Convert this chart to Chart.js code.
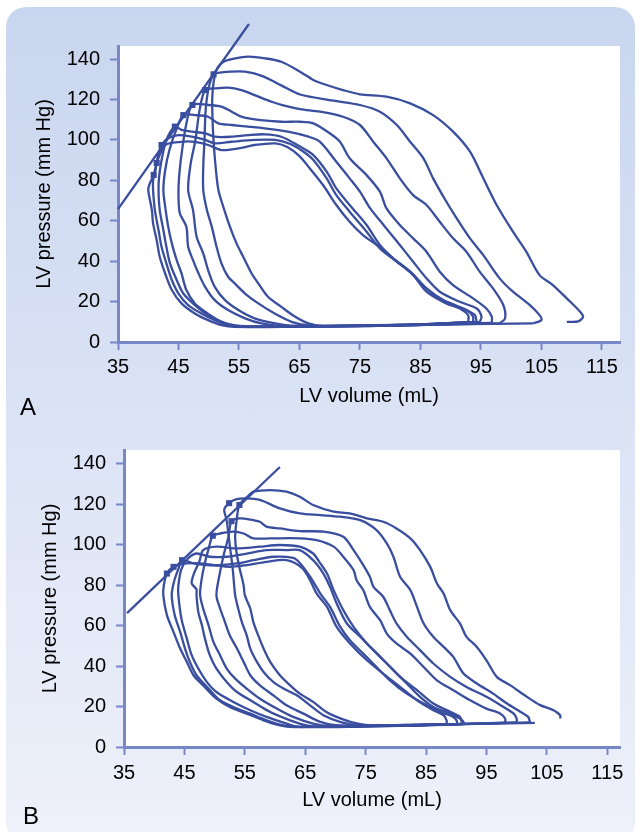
<!DOCTYPE html>
<html lang="en">
<head>
    <meta charset="UTF-8">
    <title>LV pressure-volume loops</title>
    <script src="https://cdn.jsdelivr.net/npm/chart.js"></script>
    <style>
        body {
            margin: 0;
            background: #fff;
            font-family: "Liberation Sans", Arial, sans-serif;
        }
        .page {
            position: relative;
            width: 640px;
            height: 832px;
            overflow: hidden;
        }
        .panel {
            position: absolute;
            left: 6px;
            top: 7px;
            width: 629px;
            height: 835px;
            border-radius: 20px;
            background: linear-gradient(#c9d6ef, #dbe3f5 50%, #eef1fa);
        }
        canvas { position: absolute; left: 0; }
        #chartA { top: 0; }
        #chartB { top: 420px; }
        .tag {
            position: absolute;
            font-size: 24px;
            line-height: 1;
            color: #000;
        }
    </style>
</head>
<body>
<div class="page">
    <div class="panel"></div>
    <canvas id="chartA" width="640" height="420"></canvas>
    <canvas id="chartB" width="640" height="412"></canvas>
    <div class="tag" style="left:20px; top:395px;">A</div>
    <div class="tag" style="left:23px; top:804px;">B</div>
</div>

<script>
    // tick labels
    const volumeTicks = [35, 45, 55, 65, 75, 85, 95, 105, 115];
    const pressureTicks = [0, 20, 40, 60, 80, 100, 120, 140];

    // panel A loops, [volume mL, pressure mm Hg], each beat from end-diastole round to the next one
    const a1 = [[109.2,10],[111.1,10.2],[111.9,12.5],[111.4,15],[109.2,21.6],[106.9,28.2],[104.7,33.1],[102.5,44.7],[100.3,54.6],[97.6,67.8],[95.4,81],[93.2,94.2],[90.4,104.1],[87.1,112.3],[83.3,118.1],[79.4,121.4],[75,122.6],[72.2,124.7],[69.5,127.2],[67.3,129.7],[65.1,133.8],[62,138.7],[59.3,140.4],[56.5,141.2],[53.8,140],[52.3,138.4],[51.2,134],[50.6,122],[50.7,105],[51.1,88],[51.6,75.2],[52.4,67],[53.5,57.1],[54.6,48.8],[55.7,42.2],[57.1,33.9],[58.2,29],[59.8,22.4],[62,17.4],[64.3,12.5],[66.5,9.2],[69,7.8],[78,8],[88,8.6],[97,9],[103.7,9.2]];
    const a2 = [[103.7,9.2],[105,10.9],[104.7,13.3],[103.1,18.3],[100.3,24.9],[98.1,31.5],[95.4,43],[93.2,51.3],[91,61.2],[89.3,69.4],[87.1,81],[85.5,90.9],[83.3,99.1],[81.1,107.4],[78.3,114],[75,117.3],[70.6,119.5],[65.1,122.5],[62,127],[59,131.5],[56,133.8],[53.5,133.8],[51.5,133.2],[50.8,132.5],[50,126],[49.5,115],[49.3,100],[49.1,87],[49.1,75.2],[49.7,65.3],[50.5,57.1],[51.3,47.1],[52.1,38.9],[53.2,32.3],[54.3,29],[56,24],[58.2,19.1],[60.9,14.1],[63.7,10],[66.5,8.2],[76,8],[87,8.6],[98.1,9.2]];
    const a3 = [[98.1,9.2],[99,11.7],[98.7,18.3],[97,26.5],[94.8,34.8],[92.6,44.7],[90.4,51.3],[88.2,59.5],[86,67.8],[83.8,72.7],[81.6,81],[79.4,90.9],[77.2,99.1],[75,107.4],[72.2,111.5],[68.4,114],[65.1,115.3],[62.5,117],[60.4,118.9],[57.6,122.2],[55.4,124.7],[53.2,125.9],[51,125.5],[49.4,124.7],[48.5,115],[47.8,100],[47,88],[46.6,75.2],[47.4,65.3],[48,52.1],[49.1,43.8],[49.9,35.6],[51,27.3],[52.7,20.7],[54.9,15.8],[57.6,11.7],[61,9.2],[64,8],[75,8],[87,8.6],[96.8,9.5]];
    const a4 = [[96.8,9.5],[96.8,12.5],[95.9,16.6],[93.7,21.6],[90.4,28.2],[88.2,34.8],[86,44.7],[83.8,51.3],[81.6,57.9],[79.4,66.1],[78.3,74.4],[76.1,82.6],[73.3,90.9],[71.7,99.1],[70,103.3],[67.3,108.2],[65.1,109],[62,109],[58.2,109.9],[55.4,111.5],[53.8,114],[52.1,116.5],[49.9,117.3],[47.3,117.3],[46.3,108],[45.6,95],[45.2,85],[45,75.2],[45.2,64],[46.3,57.1],[46.6,47.1],[47.4,40.5],[48.3,34],[49.4,27.3],[51,20.7],[53.2,15.8],[56,11.7],[58.7,9.2],[62,8],[75,8.2],[86,8.8],[94.8,9.8]];
    const a5 = [[94.8,9.8],[95.1,12.5],[94.3,16.6],[91.5,19.9],[88.2,24.9],[86,31.5],[83.8,39.7],[81.6,48],[78.9,57.9],[76.7,66.1],[75,74.4],[73.3,81],[71.1,89.2],[68.4,99.1],[66.5,101.6],[63.1,104.1],[59.3,105.7],[56.5,106.6],[53.8,107.4],[51.6,108.2],[49.9,111.5],[47.7,112.3],[45.8,112.3],[44.5,104],[43.5,95],[42.8,85],[42.5,75.2],[42.8,67],[43.3,57.1],[43.9,48.8],[44.7,40.5],[45.5,34],[46.3,25.7],[47.7,19.1],[49.4,15],[51.6,10.8],[53.8,8.4],[57,7.6],[70,7.8],[84,8.6],[94.3,9.8]];
    const a6 = [[94.3,9.8],[94,13.3],[92.1,16.6],[88.8,20.8],[86,26.5],[83.3,34.8],[80.5,41.4],[78.3,48],[76.1,57.9],[73.3,67.8],[71.1,76],[69.5,84.3],[67.3,92.5],[65.1,96.7],[62,101.6],[59.3,102.8],[56.5,102.4],[53.8,101.6],[51,101.6],[49.4,103.3],[47.2,104.1],[45.5,105],[44.4,106.6],[43,100],[42.2,90],[41.8,82],[41.7,75.2],[41.9,65.3],[42.5,55.4],[43,47.1],[43.6,38.9],[44.7,30.7],[45.8,24],[47.7,18.3],[49.9,13.3],[52.1,10],[55,8],[68,7.8],[82,8.5],[93.7,9.8]];
    const a7 = [[93.7,9.8],[93.7,12.5],[92.6,15.8],[89.3,19.1],[86,24.9],[83.8,33.1],[81.1,39.7],[78.3,46.3],[76.1,54.6],[73.3,64.5],[71.1,72.7],[69.5,81],[67.3,90.1],[65.5,94.5],[63.5,98],[61,100],[57.6,100],[53.8,99.1],[51,98.3],[49.4,100],[47.2,101.6],[45,102.4],[43.3,100.8],[42.2,97.5],[41.6,92],[41.2,85],[40.8,80],[40.8,75.2],[41.1,65.3],[41.7,55.4],[42.2,47.1],[43,38.9],[43.9,30.7],[45,24],[46.6,18.3],[48.8,14.1],[51,10.8],[53.2,8.4],[56,7.6],[68,7.8],[82,8.5],[92.9,9.8]];
    const a8 = [[92.9,9.8],[92.9,13.3],[91.5,16.6],[88.8,19.9],[86,26.5],[83.3,34.8],[80.5,41.4],[77.8,48],[75.5,52.9],[73.3,59.5],[71.1,67.8],[68.9,77.7],[66.7,86],[65,92],[63,96.5],[61,98.3],[57.6,97.5],[54.9,95.8],[52.1,95],[49.9,97.5],[47.7,99.1],[45.5,99.1],[42.8,97.5],[41.4,88.6],[40.9,82.7],[40.2,78],[40,75.2],[40.6,65.3],[40.8,58.7],[41.4,50.4],[41.9,42.2],[42.8,33.9],[43.9,25.7],[45.5,19.1],[47.7,14.1],[49.9,10.8],[52.1,8.4],[54.3,7.5],[65,7.6],[78,8],[90,8.8]];
    const endSystoleA = [[50.8,132.5],[49.4,124.7],[47.3,117.3],[45.8,112.3],[44.4,106.6],[42.2,97.5],[41.4,88.6],[40.9,82.7]];
    const espvrA = [[35,65.8],[56.65,157.4]];

    // panel B loops
    const b1 = [[107.2,14.1],[107.2,15.7],[106.1,18.2],[103.9,20.7],[101.7,24.8],[98.9,30.6],[96.7,34.7],[95,42.9],[93.4,49.5],[91.7,54.5],[90.6,61.1],[89,67.7],[87.9,75.9],[86.8,80.9],[85.7,89.1],[84,97.4],[82.4,103.2],[80.1,108.1],[77.9,111.4],[75.2,113.1],[72.4,115.5],[69.7,116.4],[66.3,119.7],[64.1,123.8],[61.9,126.3],[59.2,127.1],[56.4,126.3],[55.5,124],[54.1,119.7],[53.65,112.2],[53.4,104],[53.65,95.7],[54.2,87.5],[54.8,80],[55,75.1],[55.9,68.5],[56.4,61.9],[57.2,55.3],[58.1,48.7],[59.2,42.1],[60.8,35.5],[62.5,30.5],[64.1,26.4],[66.3,22.3],[68.5,17.3],[70.5,14.5],[73,12],[76,10.6],[85,11],[95,11.6],[102.2,12.2]];
    const b2 = [[102.2,12.2],[101.9,14.9],[100.6,17.4],[98.4,21.5],[96.1,26.4],[93.4,31.4],[91.2,36.3],[89.5,44.6],[87.9,49.5],[86.2,54.5],[84.6,61.1],[83.5,69.3],[82.4,77.6],[80.7,84.2],[79.6,94.1],[78.5,100.7],[76.8,107.3],[74.1,112.2],[70.8,113.9],[67.5,114.7],[64.1,115.5],[60.8,118],[57.5,122.2],[55.3,123],[53.5,122.5],[52.4,120.6],[51.6,117.5],[52,112],[52.5,100],[53,88],[53.4,75.1],[53.9,68.5],[54.5,61.9],[55.3,55.3],[55.9,48.7],[57,42.1],[58.1,37.1],[59.7,32.2],[61.4,28.9],[63.6,25.6],[65.8,20.6],[68,15.7],[71,12.2],[74,10.8],[84,11],[93,11.5],[100,12.2]];
    const b3 = [[100,12.2],[100,14],[99.5,16.5],[97.8,19.8],[95,24.8],[91.7,29.7],[89,34.7],[86.2,41.3],[84,47.9],[81.8,54.5],[80.1,61.1],[79,67.7],[77.9,74.3],[76.3,79.2],[75.7,84.2],[74.6,90],[73,97.4],[71.3,104],[68,106.5],[64.1,106.8],[60.8,108.1],[58.6,109],[57.5,111.4],[56.4,112.2],[54.2,113.1],[52.8,111.7],[52.3,104],[51.5,95],[50.8,85],[50.3,75.1],[50.9,68.5],[51.7,61.9],[52.5,55.3],[53.7,48.7],[54.8,42.1],[55.9,35.5],[57.5,30.5],[59.7,25.6],[61.9,20.6],[64.7,16.5],[67.5,12.4],[70,10.8],[80,10.7],[90,11.3],[98.1,12]];
    const b4 = [[98.1,12],[98.1,14],[97.3,16.5],[95,19],[92.3,23.1],[89.5,28.1],[86.8,33],[84.6,39.6],[82.4,46.2],[80.1,51.2],[78.5,56.1],[77.4,62.7],[75.7,69.3],[74.6,77.6],[73.5,82.5],[73,87.5],[71.3,94.1],[69.7,99.1],[66.9,102.3],[64.1,103.2],[59.2,103.2],[56.4,103.2],[54.8,105.6],[53.1,106.5],[50.9,105.6],[49.7,104.5],[49,98],[48.3,90],[47.8,82],[47.6,75.1],[48.1,68.5],[49,60.2],[49.8,52],[50.9,45.4],[52,38.8],[53.4,33.8],[55.3,28.9],[57.5,23.9],[60.3,19],[63,14.9],[66.3,11.6],[69,10.4],[78,10.5],[86,11],[91.2,11.3]];
    const b5 = [[91.2,11.3],[91.2,12.4],[90.6,14.1],[89,16.5],[86.2,19.8],[84,24.8],[81.8,31.4],[79.6,38],[77.4,44.6],[75.2,51.2],[73,59.4],[71.3,67.7],[69.7,77.6],[68.6,85.8],[67.5,90.8],[66.3,95.7],[64.1,99.1],[60.8,99.9],[57.5,99.1],[53.7,98.2],[50.3,99.1],[48.1,97.4],[47.5,92],[46.6,86],[46.2,81],[47,78],[47,75.1],[47.3,66.8],[47.9,60.2],[48.4,53.6],[49.2,45.4],[50.3,38.8],[52,32.2],[53.7,27.2],[56.4,22.3],[59.2,17.3],[62.5,13.2],[65.2,10.7],[68,10],[78,10.4],[86,10.9],[90.9,11.2]];
    const b6 = [[90.9,11.2],[90.9,12.4],[90.6,14.9],[89,17.4],[86.2,21.5],[83.5,28.1],[80.7,34.7],[78.5,41.3],[76.3,47.9],[74.1,54.5],[71.9,61.1],[70.2,71],[69.1,79.2],[68,85.8],[66.3,92.4],[64.1,97.4],[61.9,97.4],[58.6,97.4],[55.3,95.7],[52,94.1],[49.2,94.1],[47,95.7],[45.5,93],[44.5,88],[44,80],[44,75.1],[44.5,63.5],[45.4,53.6],[46.2,45.4],[47.3,38.8],[48.7,32.2],[50.3,27.2],[53.1,22.3],[55.9,18.2],[58.6,14.9],[61.9,11.6],[64.1,9.9],[75,10.2],[84,10.7],[90.1,11.1]];
    const b7 = [[90.1,11.1],[90.1,12.9],[89.5,14.9],[87.3,17.4],[84.6,21.5],[81.8,26.4],[79,33],[76.8,39.6],[74.6,46.2],[72.4,52.8],[70.8,59.4],[69.1,69.3],[67.5,75.9],[65.8,84.2],[64.1,91],[63,93.5],[59.7,94.1],[56.4,92.4],[53.7,90.8],[50.9,90],[48.7,90],[46.5,90.8],[44.6,92.4],[44,88],[43.3,82],[42.9,75.1],[43.4,65.2],[44.3,56.9],[45.1,48.7],[45.9,42.1],[47,35.5],[49,28.9],[50.9,23.1],[53.1,19.8],[55.9,16.5],[58.6,13.2],[61.4,10.7],[64,10],[74,10.2],[83,10.6],[88.4,11]];
    const b8 = [[88.4,11],[88.4,13.2],[87.9,15.7],[86.2,18.2],[83.5,23.1],[80.7,29.7],[77.9,36.3],[75.2,42.9],[72.4,51.2],[70.2,59.4],[68.6,69.3],[66.9,75.9],[65.8,82.5],[64.5,88.5],[61.9,92.4],[58.6,91.6],[55.3,90],[52.5,89.1],[49.8,90],[47.6,90.8],[45.4,90.8],[43.2,89.1],[42.1,85.8],[41.6,80],[41.5,75.1],[42.1,65.2],[43.2,56.9],[44.3,48.7],[45.4,42.1],[46.5,35.5],[48.1,30.5],[50.3,23.9],[52.5,19.8],[55.3,16.5],[58.1,13.2],[60.8,10.7],[63,9.9],[75,10.6],[90,11.3],[103,11.9]];
    const endSystoleB = [[54.1,119.7],[52.4,120.6],[52.8,111.7],[49.7,104.5],[44.6,92.4],[43.2,89.1],[42.1,85.8]];
    const espvrB = [[35.5,66.2],[60.8,138.5]];

    const lineColor = '#3a4e9f';
    const axisColor = '#7787c7';
    const textColor = '#000';
    const fontFamily = '"Liberation Sans", Arial, sans-serif';

    const toPoints = arr => arr.map(p => ({ x: p[0], y: p[1] }));

    // white plot area
    const whiteArea = {
        id: 'whiteArea',
        beforeDraw(chart) {
            const { ctx, chartArea: a } = chart;
            ctx.save();
            ctx.fillStyle = '#fff';
            ctx.fillRect(a.left, a.top, a.right - a.left, a.bottom - a.top);
            ctx.restore();
        }
    };

    function makeChart(id, loops, squares, espvr, g) {
        const datasets = loops.map(loop => ({
            data: toPoints(loop),
            showLine: true,
            borderColor: lineColor,
            borderWidth: 2.3,
            pointRadius: 0,
            tension: 0.3
        }));
        datasets.push({
            data: toPoints(espvr),
            showLine: true,
            borderColor: lineColor,
            borderWidth: 2.3,
            pointRadius: 0,
            clip: false
        });
        datasets.push({
            data: toPoints(squares),
            showLine: false,
            pointStyle: 'rect',
            pointRadius: 4.3,
            backgroundColor: lineColor,
            borderColor: lineColor,
            borderWidth: 0
        });

        return new Chart(document.getElementById(id), {
            type: 'scatter',
            data: { datasets: datasets },
            plugins: [whiteArea],
            options: {
                responsive: false,
                animation: false,
                events: [],
                layout: { padding: { top: g.top, right: 20, left: 0, bottom: 0 } },
                plugins: { legend: { display: false }, tooltip: { enabled: false } },
                scales: {
                    x: {
                        type: 'linear',
                        min: 35,
                        max: g.xMax,
                        afterBuildTicks: s => { s.ticks = volumeTicks.map(v => ({ value: v })); },
                        afterFit: s => { s.height = g.xAxisH; },
                        grid: { drawOnChartArea: false, tickLength: 8, tickColor: axisColor, tickWidth: 2 },
                        border: { color: axisColor, width: 3 },
                        ticks: { color: textColor, font: { family: fontFamily, size: 20 }, padding: g.xPad, maxRotation: 0, autoSkip: false },
                        title: { display: true, text: 'LV volume (mL)', color: textColor, font: { family: fontFamily, size: 20 }, padding: { top: 0, bottom: g.xTitlePad } }
                    },
                    y: {
                        type: 'linear',
                        min: 0,
                        max: g.yMax,
                        afterBuildTicks: s => { s.ticks = pressureTicks.map(v => ({ value: v })); },
                        afterFit: s => { s.width = g.yAxisW; },
                        grid: { drawOnChartArea: false, tickLength: 8, tickColor: axisColor, tickWidth: 2 },
                        border: { color: axisColor, width: 3 },
                        ticks: { color: textColor, font: { family: fontFamily, size: 20 }, padding: 10, autoSkip: false },
                        title: { display: true, text: 'LV pressure (mm Hg)', color: textColor, font: { family: fontFamily, size: 20 }, padding: { top: g.yTitlePad, bottom: 0 } }
                    }
                }
            }
        });
    }

    makeChart('chartA', [a1, a2, a3, a4, a5, a6, a7, a8], endSystoleA, espvrA,
        { top: 46, xMax: 118, yMax: 146.5, xAxisH: 78, yAxisW: 118, xPad: 5, xTitlePad: 12, yTitlePad: 32 });
    makeChart('chartB', [b1, b2, b3, b4, b5, b6, b7, b8], endSystoleB, espvrB,
        { top: 30, xMax: 117.1, yMax: 146.9, xAxisH: 85, yAxisW: 124, xPad: 6, xTitlePad: 20, yTitlePad: 38 });
</script>
</body>
</html>
